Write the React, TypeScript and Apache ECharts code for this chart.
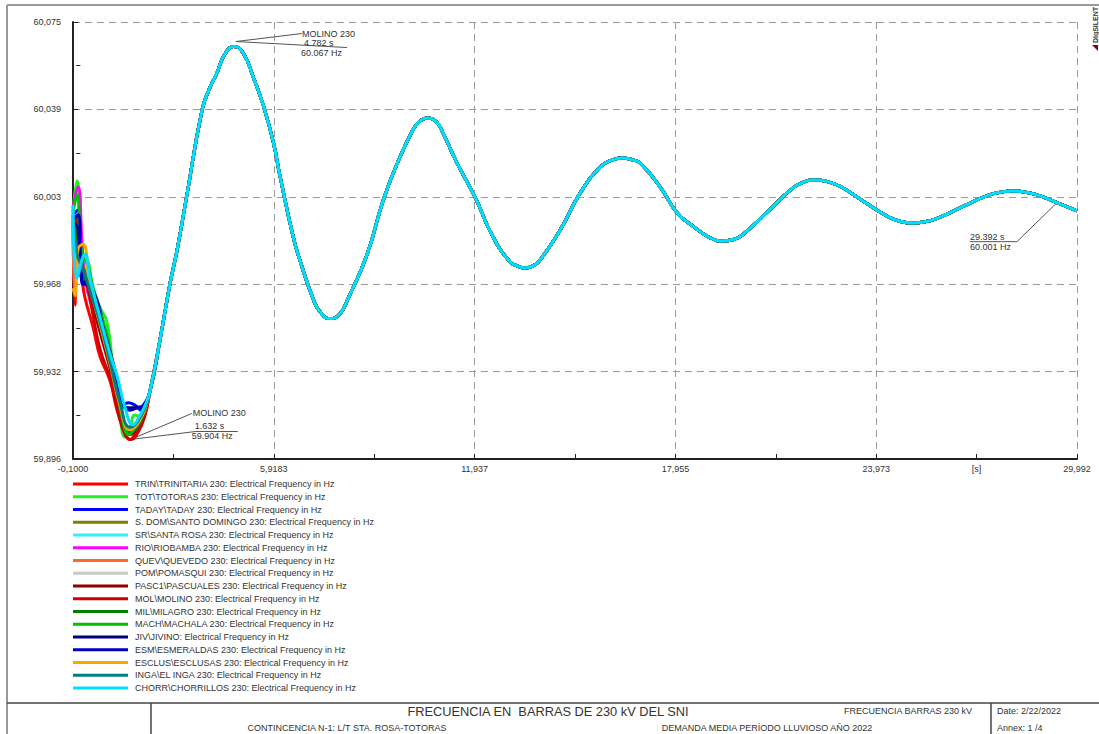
import React, { useEffect, useRef } from "react";
import * as echarts from "echarts";

const FONT = "'Liberation Sans', Arial, Helvetica, sans-serif";

// ---- axis ticks / labels ----
const xTickValues = [-0.1, 5.9183, 11.937, 17.955, 23.973, 29.992];
const xTickLabels = ["-0,1000", "5,9183", "11,937", "17,955", "23,973", "29,992"];
const xMinorValues = [2.909, 8.928, 14.946, 20.964, 26.983];
const xUnitValue = 26.983;
const xUnitLabel = "[s]";
const yTickValues = [59.896, 59.9318, 59.9676, 60.0034, 60.0392, 60.075];
const yTickLabels = ["59,896", "59,932", "59,968", "60,003", "60,039", "60,075"];
const yMinorValues = [59.9139, 59.9497, 59.9855, 60.0213, 60.0571];

// ---- series ----
const seriesNames = [
  "TRIN\\TRINITARIA 230: Electrical Frequency in Hz",
  "TOT\\TOTORAS 230: Electrical Frequency in Hz",
  "TADAY\\TADAY 230: Electrical Frequency in Hz",
  "S. DOM\\SANTO DOMINGO 230: Electrical Frequency in Hz",
  "SR\\SANTA ROSA 230: Electrical Frequency in Hz",
  "RIO\\RIOBAMBA 230: Electrical Frequency in Hz",
  "QUEV\\QUEVEDO 230: Electrical Frequency in Hz",
  "POM\\POMASQUI 230: Electrical Frequency in Hz",
  "PASC1\\PASCUALES 230: Electrical Frequency in Hz",
  "MOL\\MOLINO 230: Electrical Frequency in Hz",
  "MIL\\MILAGRO 230: Electrical Frequency in Hz",
  "MACH\\MACHALA 230: Electrical Frequency in Hz",
  "JIV\\JIVINO: Electrical Frequency in Hz",
  "ESM\\ESMERALDAS 230: Electrical Frequency in Hz",
  "ESCLUS\\ESCLUSAS 230: Electrical Frequency in Hz",
  "INGA\\EL INGA 230: Electrical Frequency in Hz",
  "CHORR\\CHORRILLOS 230: Electrical Frequency in Hz",
];
const seriesColors = [
  "#ff0000", "#22ee22", "#0000ff", "#808000", "#33eeff", "#ff00ff",
  "#ff6633", "#c8c8c8", "#8b0000", "#d00000", "#008000", "#00c000",
  "#000080", "#0000c0", "#ffa500", "#008080", "#00dfff",
];

// early transient of each bus, [time s, frequency Hz]
const trinEarly = [[-0.1, 59.994], [-0.04, 59.959], [0.02, 59.974], [0.11, 59.973], [0.26, 59.962], [0.5, 59.95], [0.71, 59.938], [1.01, 59.928], [1.22, 59.916], [1.4, 59.909], [1.61, 59.904], [1.82, 59.908], [2.03, 59.913]];
const totEarly = [[-0.1, 59.997], [0.02, 60.01], [0.11, 59.991], [0.2, 59.978], [0.35, 59.977], [0.47, 59.968], [0.71, 59.958], [0.92, 59.952], [1.1, 59.933], [1.31, 59.913], [1.46, 59.905], [1.61, 59.909], [1.76, 59.914], [1.95, 59.913], [2.08, 59.918]];
const tadayEarly = [[-0.1, 59.996], [0.05, 59.998], [0.17, 59.968], [0.35, 59.967], [0.5, 59.965], [0.71, 59.957], [1.01, 59.939], [1.22, 59.928], [1.4, 59.918], [1.55, 59.919], [1.76, 59.918], [1.95, 59.916], [2.08, 59.919]];
const sdomEarly = [[-0.1, 59.99], [0.05, 59.986], [0.2, 59.972], [0.41, 59.966], [0.71, 59.952], [1.01, 59.936], [1.31, 59.918], [1.61, 59.907], [1.91, 59.912]];
const srEarly = [[-0.1, 59.997], [0.02, 59.972], [0.2, 59.976], [0.41, 59.965], [0.71, 59.953], [1.01, 59.935], [1.31, 59.917], [1.61, 59.908], [1.91, 59.913]];
const rioEarly = [[-0.1, 59.999], [0.05, 60.0074], [0.17, 59.985], [0.26, 59.97], [0.5, 59.957], [0.71, 59.951], [0.92, 59.945], [1.22, 59.926], [1.37, 59.915], [1.58, 59.907], [1.76, 59.91], [1.95, 59.914]];
const quevEarly = [[-0.1, 59.993], [-0.04, 59.963], [0.05, 59.978], [0.2, 59.975], [0.41, 59.962], [0.71, 59.95], [1.01, 59.936], [1.31, 59.919], [1.61, 59.906], [1.91, 59.912]];
const pomEarly = [[-0.1, 59.994], [0.05, 59.99], [0.2, 59.972], [0.41, 59.964], [0.71, 59.951], [1.01, 59.935], [1.31, 59.918], [1.61, 59.908], [1.91, 59.913]];
const pascEarly = [[-0.1, 59.992], [0.05, 59.995], [0.17, 59.975], [0.35, 59.966], [0.71, 59.948], [1.01, 59.933], [1.31, 59.916], [1.61, 59.906], [1.91, 59.911]];
const molEarly = [[-0.1, 59.99], [0.02, 59.9947], [0.11, 59.978], [0.26, 59.972], [0.5, 59.955], [0.71, 59.941], [1.01, 59.929], [1.22, 59.917], [1.46, 59.906], [1.63, 59.904], [1.85, 59.907], [2.06, 59.914]];
const milEarly = [[-0.1, 59.995], [0.05, 59.984], [0.2, 59.972], [0.41, 59.966], [0.71, 59.952], [1.01, 59.937], [1.31, 59.918], [1.61, 59.907], [1.91, 59.911]];
const machEarly = [[-0.1, 59.997], [0.02, 60.004], [0.17, 59.98], [0.35, 59.975], [0.56, 59.962], [0.86, 59.95], [1.1, 59.934], [1.37, 59.913], [1.58, 59.906], [1.82, 59.911], [2.0, 59.915]];
const jivEarly = [[-0.1, 59.993], [0.05, 59.99], [0.17, 59.969], [0.35, 59.968], [0.56, 59.963], [0.8, 59.95], [1.01, 59.94], [1.22, 59.929], [1.4, 59.918], [1.58, 59.917], [1.76, 59.917], [1.95, 59.917]];
const esmEarly = [[-0.1, 59.994], [0.05, 59.996], [0.17, 59.969], [0.35, 59.967], [0.56, 59.961], [0.8, 59.948], [1.01, 59.938], [1.22, 59.927], [1.4, 59.918], [1.61, 59.916], [1.82, 59.917], [2.0, 59.918]];
const esclusEarly = [[-0.1, 59.966], [-0.04, 59.963], [0.05, 59.982], [0.2, 59.984], [0.41, 59.967], [0.71, 59.951], [1.01, 59.935], [1.31, 59.918], [1.61, 59.908], [1.91, 59.912]];
const ingaEarly = [[-0.1, 59.996], [0.02, 59.98], [0.2, 59.974], [0.41, 59.965], [0.71, 59.952], [1.01, 59.936], [1.31, 59.919], [1.61, 59.909], [1.91, 59.913]];
const chorrEarly = [[-0.1, 60.0], [0.02, 59.97], [0.26, 59.98], [0.41, 59.97], [0.71, 59.954], [1.01, 59.939], [1.22, 59.93], [1.46, 59.917], [1.7, 59.91], [1.91, 59.914], [2.06, 59.918]];

const earlyData = [
  trinEarly, totEarly, tadayEarly, sdomEarly, srEarly, rioEarly, quevEarly, pomEarly,
  pascEarly, molEarly, milEarly, machEarly, jivEarly, esmEarly, esclusEarly, ingaEarly, chorrEarly,
];

// common oscillation after the transient
const tailTime = [2.21, 2.51, 2.81, 3.02, 3.3, 3.77, 4.0, 4.21, 4.45, 4.72, 5.0, 5.3, 5.6, 5.9, 6.11, 6.5, 6.71, 7.1, 7.31, 7.61, 7.91, 8.12, 8.72, 9.2, 9.7, 10.09, 10.25, 10.51, 10.78, 10.99, 11.41, 11.95, 12.49, 13.0, 13.2, 13.45, 13.7, 13.9, 14.5, 15.1, 15.7, 16.05, 16.36, 16.65, 16.9, 17.5, 18.01, 18.5, 19.0, 19.36, 19.7, 20.0, 20.75, 21.4, 21.8, 22.15, 22.5, 22.9, 23.6, 24.3, 24.7, 25.06, 25.4, 25.8, 26.55, 27.3, 27.7, 28.06, 28.4, 28.8, 29.39, 29.992];
const tailFreq = [59.924, 59.945, 59.968, 59.9816, 60.003, 60.039, 60.048, 60.054, 60.0618, 60.065, 60.0623, 60.0525, 60.041, 60.026, 60.0115, 59.987, 59.977, 59.9615, 59.9562, 59.9535, 59.9556, 59.961, 59.98, 60.0021, 60.0197, 60.0308, 60.0338, 60.0357, 60.0342, 60.0295, 60.0172, 60.0033, 59.9869, 59.9767, 59.9752, 59.9742, 59.9752, 59.9775, 59.9898, 60.0049, 60.0156, 60.0184, 60.0193, 60.0186, 60.0172, 60.0074, 59.9968, 59.9912, 59.9866, 59.9853, 59.9859, 59.9882, 59.9977, 60.0061, 60.0094, 60.0103, 60.0096, 60.0076, 60.0015, 59.9955, 59.9933, 59.9927, 59.9931, 59.9946, 59.9993, 60.0039, 60.0053, 60.0058, 60.0054, 60.0042, 60.001, 59.9976];

// ---- annotations ----
const annotPeak = { t: 4.782, f: 60.067, texts: ["MOLINO 230", "4.782 s", "60.067 Hz"] };
const annotMin = { t: 1.632, f: 59.904, texts: ["MOLINO 230", "1.632 s", "59.904 Hz"] };
const annotEnd = { t: 29.392, f: 60.001, texts: ["29.392 s", "60.001 Hz"] };

// ---- title block ----
const titleMain = "FRECUENCIA EN  BARRAS DE 230 kV DEL SNI";
const titleRight = "FRECUENCIA BARRAS 230 kV";
const subLeft = "CONTINCENCIA N-1: L/T STA. ROSA-TOTORAS";
const subRight = "DEMANDA MEDIA PERÍODO LLUVIOSO AÑO 2022";
const dateText = "Date: 2/22/2022";
const annexText = "Annex: 1 /4";
const brandText = "DIgSILENT";

const nearestLabel = (vals: number[], labels: string[]) => (v: number) => {
  let best = 0;
  for (let i = 1; i < vals.length; i++) {
    if (Math.abs(vals[i] - v) < Math.abs(vals[best] - v)) best = i;
  }
  return labels[best];
};

const txt = (x: number, y: number, text: string, size = 9, align = "left", extra: any = {}) => ({
  type: "text",
  x,
  y,
  silent: true,
  style: {
    text,
    fontSize: size,
    fontFamily: FONT,
    fill: "#333",
    align,
    verticalAlign: "middle",
    ...extra,
  },
});
const ln = (x1: number, y1: number, x2: number, y2: number, stroke = "#555", w = 1) => ({
  type: "line",
  silent: true,
  shape: { x1, y1, x2, y2 },
  style: { stroke, lineWidth: w },
});

export default function App() {
  const ref = useRef<HTMLDivElement>(null);
  useEffect(() => {
    const el = ref.current;
    if (!el) return;
    const chart = echarts.init(el, null, { renderer: "svg" });
    const tail = tailTime.map((t, i) => [t, tailFreq[i]]);
    const xMin = xTickValues[0];
    const xMax = xTickValues[xTickValues.length - 1];
    const yMin = yTickValues[0];
    const yMax = yTickValues[yTickValues.length - 1];
    const xLabelVals = [...xTickValues, xUnitValue];
    const xLabelTexts = [...xTickLabels, xUnitLabel];

    const series = seriesNames.map((name, i) => ({
      name,
      type: "line",
      xAxisIndex: 0,
      yAxisIndex: 0,
      data: (earlyData[i] as number[][]).concat(tail),
      showSymbol: false,
      symbol: "none",
      smooth: 0.5,
      silent: true,
      lineStyle: { width: 3, color: seriesColors[i] },
      itemStyle: { color: seriesColors[i] },
    }));

    const splitLine = { show: true, lineStyle: { color: "#9a9a9a", width: 1, type: [7, 5] } };

    chart.setOption({
      animation: false,
      backgroundColor: "#fff",
      grid: { left: 73, top: 22, width: 1004, height: 437, containLabel: false },
      xAxis: [
        {
          type: "value",
          position: "bottom",
          min: xMin,
          max: xMax,
          axisLine: { show: true, onZero: false, lineStyle: { color: "#222", width: 2 } },
          axisTick: { show: true, inside: true, length: 5, customValues: xTickValues, lineStyle: { color: "#222" } },
          axisLabel: {
            show: true,
            margin: 5,
            customValues: xLabelVals,
            formatter: nearestLabel(xLabelVals, xLabelTexts),
            fontSize: 9,
            fontFamily: FONT,
            color: "#333",
          },
          splitLine,
        },
        {
          type: "value",
          position: "bottom",
          min: xMin,
          max: xMax,
          axisLine: { show: false },
          axisTick: { show: true, inside: true, length: 5, customValues: xMinorValues, lineStyle: { color: "#222" } },
          axisLabel: { show: false },
          splitLine: { show: false },
        },
      ],
      yAxis: [
        {
          type: "value",
          position: "left",
          min: yMin,
          max: yMax,
          axisLine: { show: true, onZero: false, lineStyle: { color: "#222", width: 2 } },
          axisTick: { show: true, inside: true, length: 5, customValues: yTickValues, lineStyle: { color: "#222" } },
          axisLabel: {
            show: true,
            margin: 12,
            customValues: yTickValues,
            formatter: nearestLabel(yTickValues, yTickLabels),
            fontSize: 9,
            fontFamily: FONT,
            color: "#333",
          },
          splitLine,
        },
        {
          type: "value",
          position: "left",
          min: yMin,
          max: yMax,
          axisLine: { show: false },
          axisTick: { show: true, inside: true, length: 4, customValues: yMinorValues, lineStyle: { color: "#222" } },
          axisLabel: { show: false },
          splitLine: { show: false },
        },
      ],
      legend: {
        show: true,
        orient: "vertical",
        left: 73,
        top: 479,
        padding: 0,
        itemGap: 2.75,
        itemWidth: 55,
        itemHeight: 3,
        icon: "rect",
        selectedMode: false,
        data: seriesNames,
        textStyle: { fontSize: 9, fontFamily: FONT, color: "#333", lineHeight: 10, padding: [0, 0, 0, 2] },
      },
      series,
    });

    const px = (t: number, f: number) => chart.convertToPixel({ xAxisIndex: 0, yAxisIndex: 0 }, [t, f]) as number[];
    const P1 = px(annotPeak.t, annotPeak.f);
    const P2 = px(annotMin.t, annotMin.f);
    const P3 = px(annotEnd.t, annotEnd.f);

    const graphics: any[] = [
      // page frame
      ln(7, 5, 7, 734, "#999", 2),
      ln(7, 5, 1099, 5, "#999", 2),
      // title block
      ln(7, 703, 1099, 703, "#444", 1.5),
      ln(151, 703, 151, 734, "#444", 1.5),
      ln(991, 703, 991, 734, "#444", 1.5),
      txt(548, 711, titleMain, 12.8, "center"),
      txt(908, 711, titleRight, 9, "center"),
      txt(347, 728, subLeft, 9, "center"),
      txt(767, 728, subRight, 9, "center"),
      txt(997, 711, dateText, 9, "left"),
      txt(997, 728, annexText, 9, "left"),
      // brand (rotated)
      {
        type: "text",
        x: 1095,
        y: 25,
        rotation: Math.PI / 2,
        silent: true,
        style: { text: brandText, fontSize: 7, fontWeight: "bold", fontFamily: FONT, fill: "#333", align: "center", verticalAlign: "middle" },
      },
      { type: "polygon", silent: true, shape: { points: [[1092, 45], [1098, 45], [1098, 51]] }, style: { fill: "#8b0000" } },
      // peak annotation
      ln(P1[0], P1[1], P1[0] + 66, P1[1] - 8),
      ln(P1[0], P1[1], P1[0] + 111, P1[1] + 6),
      txt(P1[0] + 66, P1[1] - 8, annotPeak.texts[0]),
      txt(P1[0] + 68, P1[1] + 1, annotPeak.texts[1]),
      txt(P1[0] + 65, P1[1] + 11, annotPeak.texts[2]),
      // minimum annotation
      ln(P2[0], P2[1], P2[0] + 61, P2[1] - 26),
      ln(P2[0], P2[1], P2[0] + 65, P2[1] - 8),
      ln(P2[0] + 65, P2[1] - 8, P2[0] + 107, P2[1] - 8),
      txt(P2[0] + 62, P2[1] - 26, annotMin.texts[0]),
      txt(P2[0] + 64, P2[1] - 13, annotMin.texts[1]),
      txt(P2[0] + 61, P2[1] - 3, annotMin.texts[2]),
      // end annotation
      ln(P3[0], P3[1], P3[0] - 40, P3[1] + 39),
      ln(P3[0] - 40, P3[1] + 39, P3[0] - 87, P3[1] + 39),
      txt(P3[0] - 87, P3[1] + 34, annotEnd.texts[0]),
      txt(P3[0] - 87, P3[1] + 44, annotEnd.texts[1]),
    ];
    chart.setOption({ graphic: graphics });

    return () => {
      chart.dispose();
    };
  }, []);

  return (
    <div
      ref={ref}
      style={{ position: "fixed", left: 0, top: 0, width: 1099, height: 734, background: "#fff" }}
    />
  );
}
